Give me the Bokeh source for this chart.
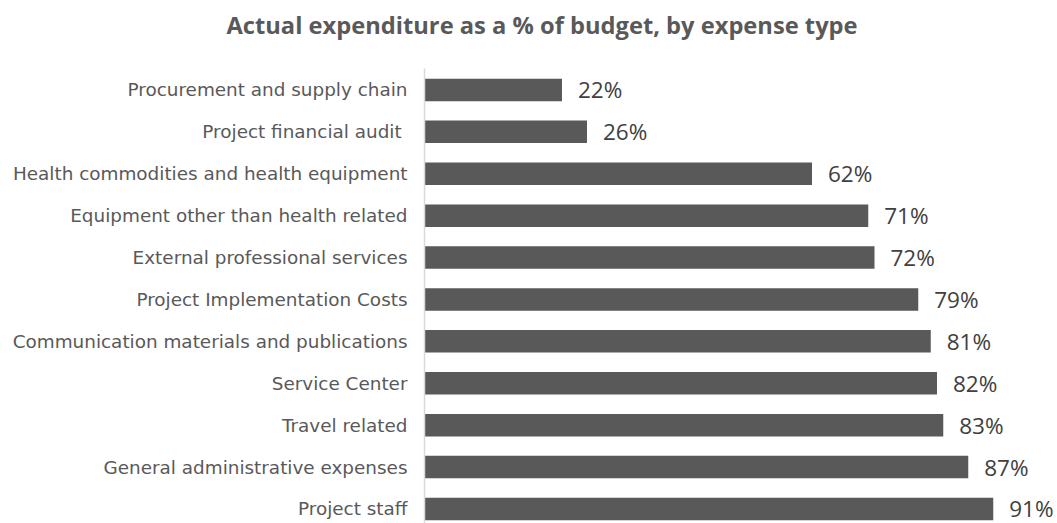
from bokeh.plotting import figure
from bokeh.models import Range1d, FixedTicker, ColumnDataSource, Title
from bokeh.core.properties import value
from bokeh.embed import file_html
from bokeh.resources import INLINE

categories = [
    "Procurement and supply chain",
    "Project financial audit ",
    "Health commodities and health equipment",
    "Equipment other than health related",
    "External professional services",
    "Project Implementation Costs",
    "Communication materials and publications",
    "Service Center",
    "Travel related",
    "General administrative expenses",
    "Project staff",
]
values = [22, 26, 62, 71, 72, 79, 81, 82, 83, 87, 91]
value_labels = [f"{v}%" for v in values]
title_text = "Actual expenditure as a % of budget, by expense type"

positions = list(range(len(categories)))
source = ColumnDataSource(dict(pos=positions, val=values, lab=value_labels))

LABEL_FONT = "DejaVu Sans"
VALUE_FONT = "Open Sans"
GREY = "#595959"

p = figure(width=1057, height=523, output_backend="svg", toolbar_location=None,
           title=None, x_axis_location=None,
           x_range=Range1d(0, 101.28), y_range=Range1d(10.347, -0.512),
           min_border_left=424, min_border_right=0, min_border_top=68,
           min_border_bottom=0)
p.hbar(y="pos", right="val", left=0, height=0.537, source=source,
       fill_color=GREY, line_color=None)
p.text(x="val", y="pos", text="lab", source=source, x_offset=16,
       text_baseline="middle", text_align="left", text_font=value(VALUE_FONT),
       text_font_size="22.5px", text_color="#404040")

p.grid.visible = False
p.outline_line_color = None
p.background_fill_color = "white"
p.border_fill_color = "white"

ax = p.yaxis[0]
ax.ticker = FixedTicker(ticks=positions)
ax.major_label_overrides = {i: c for i, c in enumerate(categories)}
ax.major_tick_line_color = None
ax.minor_tick_line_color = None
ax.axis_line_color = "#d9d9d9"
ax.axis_line_width = 1.5
ax.major_label_standoff = 11
ax.major_label_text_font = LABEL_FONT
ax.major_label_text_font_size = "18.4px"
ax.major_label_text_color = GREY

# spacer between frame and title (closest to the frame)
spacer = Title(text=" ", standoff=0, text_font=VALUE_FONT,
               text_font_size="17.6px")
p.add_layout(spacer, "above")

title = Title(text=title_text, align="left", offset=-198, vertical_align="top",
              standoff=0, text_font=VALUE_FONT, text_font_style="bold",
              text_font_size="23.7px", text_color=GREY)
p.add_layout(title, "above")

open("out.html", "w").write(file_html(p, INLINE))
